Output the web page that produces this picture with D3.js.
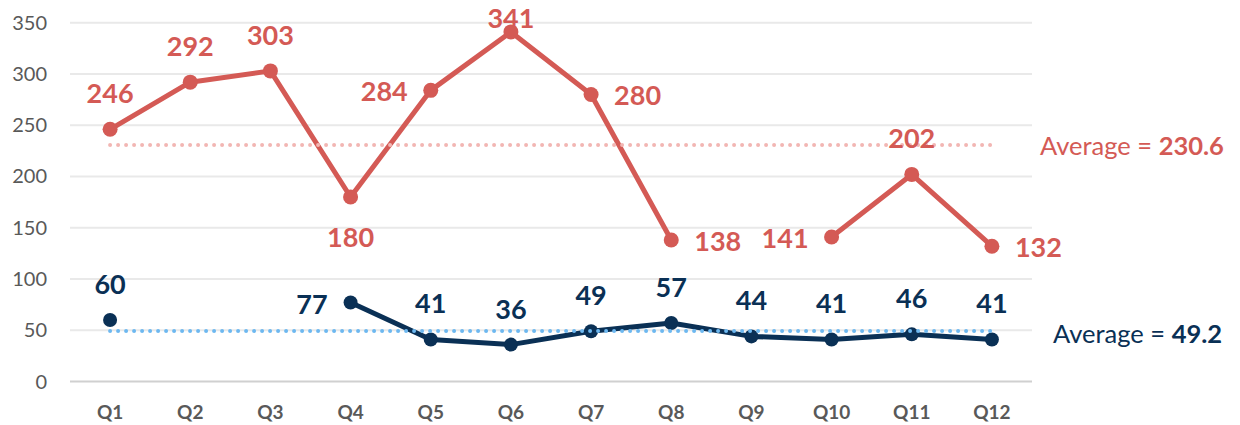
<!DOCTYPE html>
<html>
<head>
<meta charset="utf-8">
<script src="https://cdn.jsdelivr.net/npm/d3@7/dist/d3.min.js"></script>
<style>
  html, body { margin: 0; padding: 0; background: #fff; }
  svg { display: block; font-family: Lato, "Open Sans", sans-serif; }
</style>
</head>
<body>
<svg id="chart" width="1240" height="425"></svg>
<script>
"use strict";

var quarters = ["Q1", "Q2", "Q3", "Q4", "Q5", "Q6", "Q7", "Q8", "Q9", "Q10", "Q11", "Q12"],
    redValues = [246, 292, 303, 180, 284, 341, 280, 138, null, 141, 202, 132],
    navyValues = [60, null, null, 77, 41, 36, 49, 57, 44, 41, 46, 41],
    redLabelSide = ["above", "above", "above", "below", "left", "above", "right", "right", null, "left", "above", "right"],
    navyLabelSide = ["above", null, null, "left", "above", "above", "above", "above", "above", "above", "above", "above"],
    redAverage = 230.6,
    navyAverage = 49.2,
    yTicks = [0, 50, 100, 150, 200, 250, 300, 350],

    red = "#d45a55",
    navy = "#0a3055",
    pinkDots = "#f2b6b3",
    blueDots = "#6db8f0",
    tickGrey = "#595959";

var svg = d3.select("#chart"),
    plotLeft = 70,
    plotRight = 1032,
    plotTop = 22.7,
    plotBottom = 381.5;

var x = d3.scalePoint()
        .domain(quarters)
        .range([plotLeft, plotRight])
        .padding(0.5),
    y = d3.scaleLinear()
        .domain([0, 350])
        .range([plotBottom, plotTop]);

// gridlines
svg.append("g")
    .selectAll("line")
    .data(yTicks)
    .enter().append("line")
    .attr("x1", plotLeft)
    .attr("x2", plotRight)
    .attr("y1", function(d) { return y(d); })
    .attr("y2", function(d) { return y(d); })
    .attr("stroke", function(d) { return d === 0 ? "#d0d0d0" : "#e9e9e9"; })
    .attr("stroke-width", 2);

// y axis labels
svg.append("g")
    .selectAll("text")
    .data(yTicks)
    .enter().append("text")
    .attr("x", 47)
    .attr("y", function(d) { return y(d) + 7; })
    .attr("text-anchor", "end")
    .attr("font-size", 20)
    .attr("fill", tickGrey)
    .text(function(d) { return d; });

// x axis labels
svg.append("g")
    .selectAll("text")
    .data(quarters)
    .enter().append("text")
    .attr("x", function(d) { return x(d); })
    .attr("y", 419)
    .attr("text-anchor", "middle")
    .attr("font-size", 19)
    .attr("font-weight", "bold")
    .attr("fill", tickGrey)
    .text(function(d) { return d; });

var drawSeries = function(values, sides, colour, radius) {
    var points = values.map(function(v, i) {
        return { q: quarters[i], v: v, side: sides[i] };
    });

    var line = d3.line()
        .defined(function(d) { return d.v !== null; })
        .x(function(d) { return x(d.q); })
        .y(function(d) { return y(d.v); });

    var g = svg.append("g");

    g.append("path")
        .datum(points)
        .attr("d", line)
        .attr("fill", "none")
        .attr("stroke", colour)
        .attr("stroke-width", 5)
        .attr("stroke-linejoin", "round");

    var present = points.filter(function(d) { return d.v !== null; });

    g.selectAll("circle")
        .data(present)
        .enter().append("circle")
        .attr("cx", function(d) { return x(d.q); })
        .attr("cy", function(d) { return y(d.v); })
        .attr("r", radius)
        .attr("fill", colour);

    return present;
};

var drawLabels = function(present, colour) {
    svg.append("g")
        .selectAll("text")
        .data(present)
        .enter().append("text")
        .attr("x", function(d) {
            var px = x(d.q);
            if (d.side === "left") return px - 23;
            if (d.side === "right") return px + 23;
            return px;
        })
        .attr("y", function(d) {
            var py = y(d.v);
            if (d.side === "above") return Math.max(py - 26, 28);
            if (d.side === "below") return py + 50;
            return py + 11;
        })
        .attr("text-anchor", function(d) {
            if (d.side === "left") return "end";
            if (d.side === "right") return "start";
            return "middle";
        })
        .attr("font-size", 27)
        .attr("font-weight", "bold")
        .attr("fill", colour)
        .text(function(d) { return d.v; });
};

var redPoints = drawSeries(redValues, redLabelSide, red, 7.5),
    navyPoints = drawSeries(navyValues, navyLabelSide, navy, 7);

// average lines (dotted, on top of series)
var drawAverage = function(value, colour, textColour, labelX, labelDy) {
    svg.append("line")
        .attr("x1", x(quarters[0]))
        .attr("x2", x(quarters[quarters.length - 1]))
        .attr("y1", y(value))
        .attr("y2", y(value))
        .attr("stroke", colour)
        .attr("stroke-width", 4)
        .attr("stroke-linecap", "round")
        .attr("stroke-dasharray", "0 8");

    var t = svg.append("text")
        .attr("x", labelX)
        .attr("y", y(value) + labelDy)
        .attr("font-size", 25.5)
        .attr("fill", textColour);
    t.append("tspan").text("Average = ");
    t.append("tspan").attr("font-weight", "bold").text(value.toFixed(1));
};

drawAverage(redAverage, pinkDots, red, 1040, 10);
drawAverage(navyAverage, blueDots, navy, 1053, 12);

drawLabels(redPoints, red);
drawLabels(navyPoints, navy);
</script>
</body>
</html>
